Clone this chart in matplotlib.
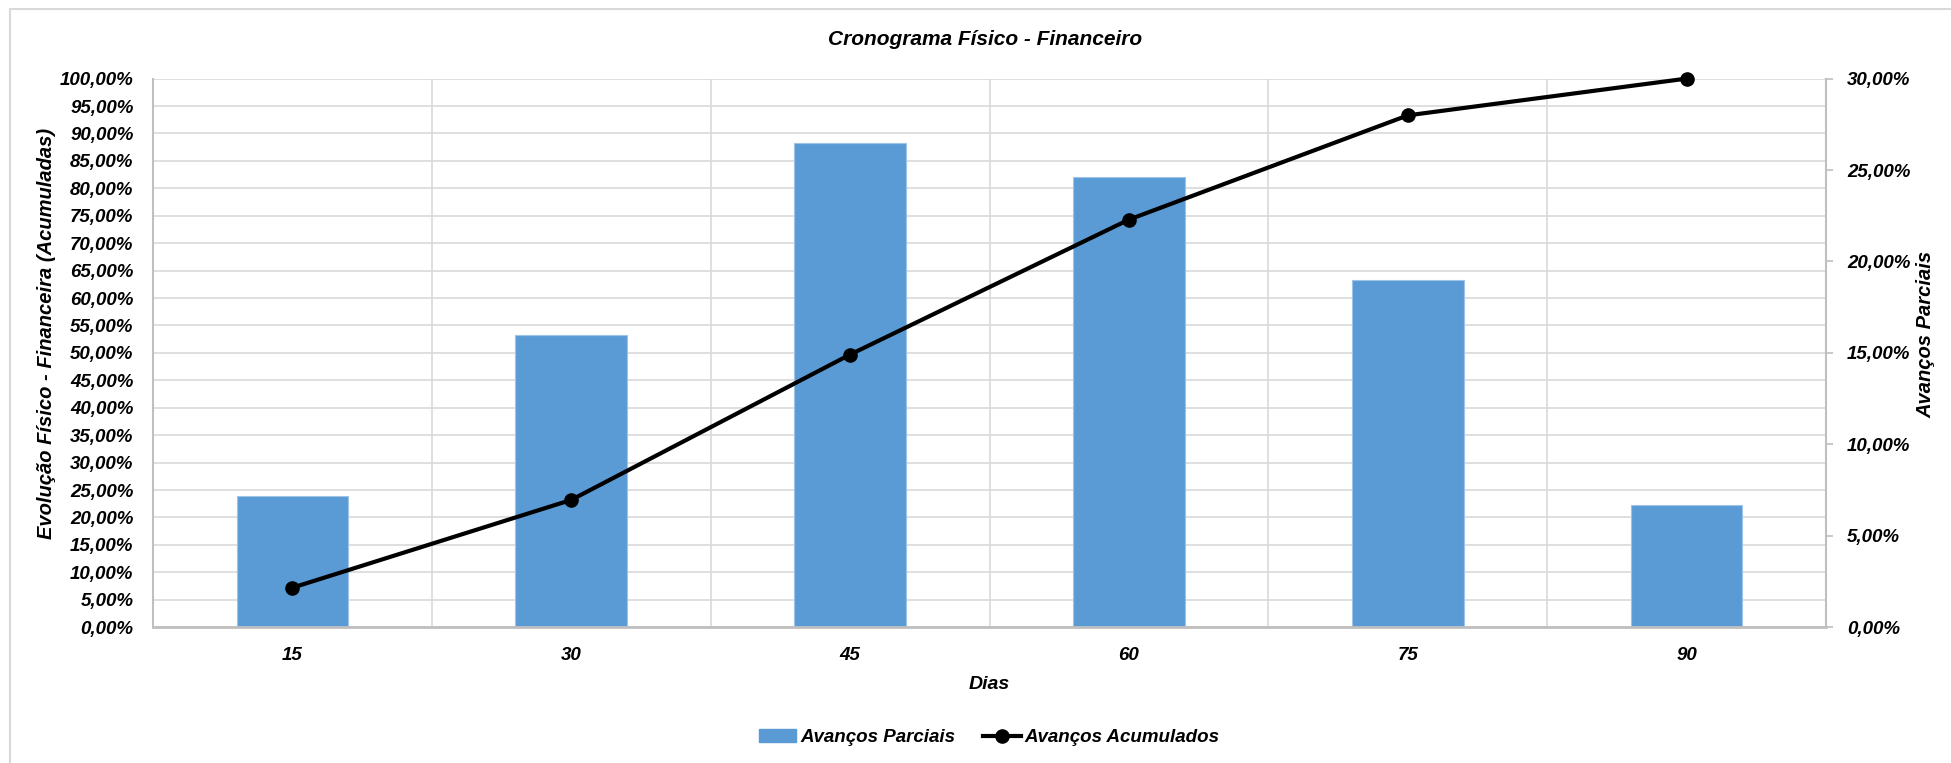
#!/usr/bin/env python

import numpy as np
import matplotlib
matplotlib.use('Agg')
import matplotlib.pyplot as plt
from matplotlib.ticker import MultipleLocator, FuncFormatter, FixedLocator
from matplotlib.lines import Line2D
from matplotlib.patches import Patch, Rectangle

# dados
dias = ['15', '30', '45', '60', '75', '90']
avancos_parciais = [7.2, 16.0, 26.5, 24.6, 19.0, 6.7]       # eixo direito (%)
avancos_acumulados = [7.2, 23.2, 49.7, 74.3, 93.3, 100.0]   # eixo esquerdo (%)

titulo = 'Cronograma Físico - Financeiro'
label_esq = 'Evolução Físico - Financeira (Acumuladas)'
label_dir = 'Avanços Parciais'
label_x = 'Dias'

NARROW = ['Liberation Sans Narrow', 'Liberation Sans', 'DejaVu Sans']
WIDE = ['Liberation Sans', 'DejaVu Sans']
BLUE = '#5b9bd5'
GRID = '#d9d9d9'
SPINE = '#bfbfbf'
FS = 13.5   # ticks, legenda, eixo x

plt.rcParams['font.family'] = NARROW
plt.rcParams['font.weight'] = 'bold'
plt.rcParams['font.style'] = 'italic'

def pct(v, pos):
  return ('%.2f%%' % v).replace('.', ',')

fig = plt.figure(figsize=(19.51, 7.63), dpi=100)
fig.add_artist(Rectangle((0.005, -0.05), 1.1, 1.038, transform=fig.transFigure,
                         fill=False, edgecolor=GRID, lw=1.5))

rect = [0.0784, 0.178, 0.936 - 0.0784, 0.897 - 0.178]
base = fig.add_axes(rect)
top = base.twinx()
base.yaxis.tick_right()
top.yaxis.tick_left()

x = np.arange(len(dias))

# barras no eixo direito (parciais)
base.bar(x, avancos_parciais, width=0.4, color=BLUE, edgecolor='#9dc3e6', lw=0.8, zorder=2)
base.set_xlim(-0.5, len(dias) - 0.5)
base.set_ylim(0, 30)
base.yaxis.set_major_locator(MultipleLocator(5))
base.yaxis.set_major_formatter(FuncFormatter(pct))
base.yaxis.set_minor_locator(MultipleLocator(1.5))
base.yaxis.remove_overlapping_locs = False
base.set_xticks(x, dias)
base.xaxis.set_minor_locator(FixedLocator(x[:-1] + 0.5))
base.grid(which='minor', axis='both', color=GRID, lw=1.2)
base.set_axisbelow(True)
base.tick_params(axis='y', which='major', length=5, width=1.2, color=SPINE,
                 pad=10, labelsize=FS)
base.tick_params(axis='y', which='minor', length=0)
base.tick_params(axis='x', which='both', length=0, pad=14, labelsize=FS)
base.spines['top'].set_visible(False)
for s in ['left', 'right', 'bottom']:
  base.spines[s].set_color(SPINE)
  base.spines[s].set_linewidth(1.5)
base.spines['bottom'].set_linewidth(2)

# linha no eixo esquerdo (acumulados)
top.plot(x, avancos_acumulados, color='black', lw=3, marker='o', ms=9.5,
         zorder=3, clip_on=False)
top.set_ylim(0, 100)
top.yaxis.set_major_locator(MultipleLocator(5))
top.yaxis.set_major_formatter(FuncFormatter(pct))
top.tick_params(axis='y', length=0, pad=14, labelsize=FS)
for s in top.spines.values():
  s.set_visible(False)

fig.text(0.505, 0.948, titulo, ha='center', va='center', fontsize=15,
         family=WIDE, weight='bold', style='italic')
fig.text(0.024, 0.563, label_esq, ha='center', va='center', rotation=90,
         fontsize=14.5, family=WIDE, weight='bold', style='italic')
fig.text(0.987, 0.562, label_dir, ha='center', va='center', rotation=90,
         fontsize=14.5, family=WIDE, weight='bold', style='italic')
fig.text(0.507, 0.103, label_x, ha='center', va='center', fontsize=FS + 0.5)

handles = [Patch(facecolor=BLUE, edgecolor=BLUE, label='Avanços Parciais'),
           Line2D([], [], color='black', lw=3, marker='o', ms=9.5, label='Avanços Acumulados')]
fig.legend(handles=handles, loc='center', bbox_to_anchor=(0.507, 0.033), ncol=2,
           frameon=False, fontsize=FS, handlelength=2.0, handletextpad=0.2,
           columnspacing=1.5)

fig.savefig('out.png', dpi=100)
